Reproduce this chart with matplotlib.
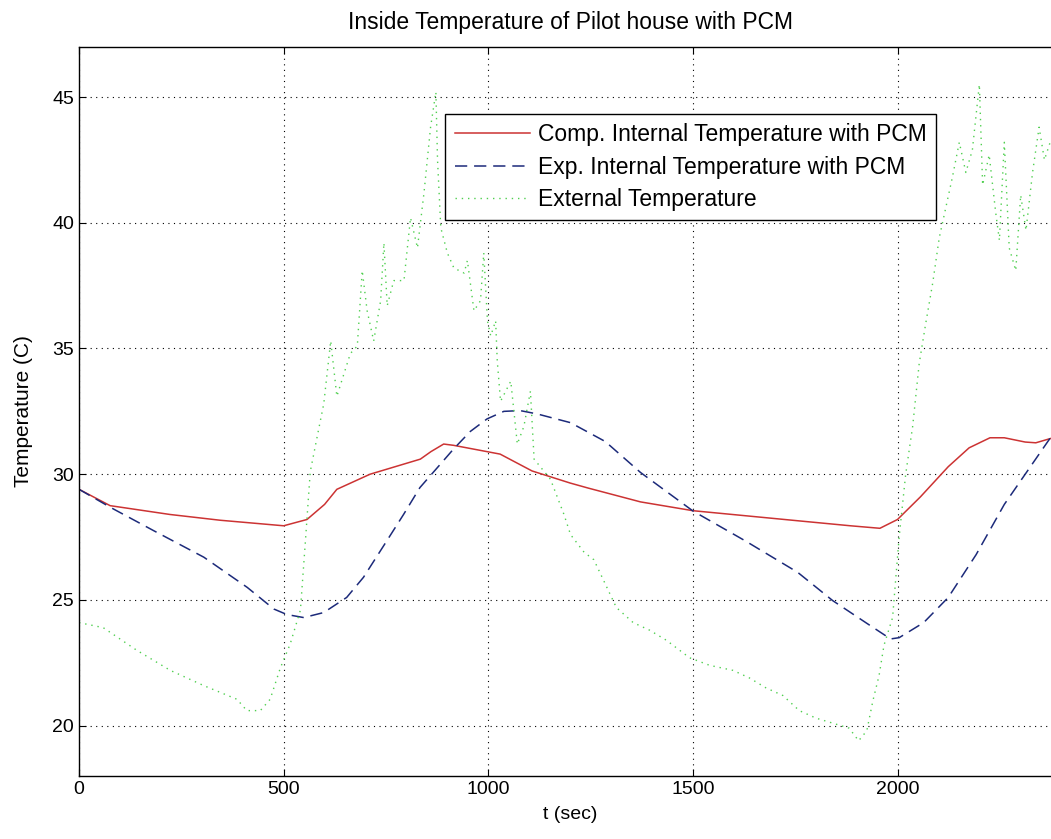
import matplotlib
matplotlib.use("Agg")
import matplotlib.pyplot as plt

plt.rcParams['font.family'] = ['Liberation Sans', 'DejaVu Sans']

# Computed internal temperature with PCM
t_comp = [0, 76, 222, 345, 500, 557, 600, 630, 711, 834, 860, 891, 915, 1029,
          1107, 1200, 1244, 1372, 1500, 1628, 1756, 1885, 1957, 2000, 2056,
          2124, 2175, 2226, 2261, 2312, 2338, 2380]
comp = [29.4, 28.75, 28.4, 28.17, 27.95, 28.2, 28.8, 29.4, 30.0, 30.6, 30.9,
        31.2, 31.15, 30.8, 30.13, 29.65, 29.45, 28.9, 28.55, 28.35, 28.15,
        27.95, 27.85, 28.2, 29.1, 30.3, 31.05, 31.45, 31.45, 31.28, 31.25, 31.45]

# Experimental internal temperature with PCM
t_exp = [0, 77, 183, 305, 411, 476, 508, 549, 598, 654, 695, 752, 793, 833,
         883, 915, 956, 997, 1038, 1078, 1119, 1201, 1286, 1372, 1500, 1628,
         1756, 1842, 1927, 1983, 2004, 2064, 2124, 2192, 2261, 2312, 2380]
exp = [29.4, 28.68, 27.75, 26.7, 25.5, 24.64, 24.42, 24.3, 24.5, 25.1, 25.9,
       27.35, 28.4, 29.47, 30.4, 31.0, 31.7, 32.2, 32.5, 32.53, 32.4, 32.05,
       31.3, 30.07, 28.54, 27.35, 26.1, 24.97, 24.05, 23.45, 23.5, 24.1, 25.1,
       26.8, 28.8, 30.0, 31.6]

# External (ambient) temperature
t_ext = [0, 59, 141, 223, 304, 386, 410, 443, 467, 492, 516, 541, 553, 565,
         582, 598, 615, 630, 663, 680, 692, 704, 720, 737, 745, 753, 769, 794,
         810, 827, 843, 859, 872, 876, 884, 900, 916, 941, 949, 965, 981, 989,
         998, 1006, 1018, 1022, 1030, 1055, 1071, 1087, 1103, 1112, 1152, 1185,
         1201, 1234, 1258, 1313, 1354, 1394, 1435, 1492, 1541, 1598, 1638,
         1679, 1720, 1760, 1801, 1842, 1882, 1905, 1925, 1940, 1955, 1967,
         1988, 2004, 2020, 2037, 2053, 2069, 2086, 2102, 2118, 2134, 2151,
         2167, 2183, 2200, 2208, 2224, 2240, 2249, 2261, 2273, 2289, 2301,
         2314, 2330, 2346, 2359, 2373]
ext = [24.1, 23.9, 23.0, 22.2, 21.6, 21.05, 20.6, 20.6, 21.05, 22.3, 23.25,
       24.6, 27.3, 30.1, 31.5, 32.8, 35.3, 33.1, 34.8, 35.1, 38.1, 36.5, 35.3,
       36.9, 39.2, 36.7, 37.7, 37.7, 40.2, 39.0, 41.2, 43.8, 45.2, 42.5, 39.8,
       38.8, 38.2, 38.0, 38.5, 36.5, 36.9, 38.8, 36.1, 35.5, 36.1, 34.5, 32.9,
       33.7, 31.2, 31.9, 33.3, 30.6, 29.8, 28.4, 27.6, 26.9, 26.6, 24.7, 24.1,
       23.8, 23.4, 22.7, 22.4, 22.2, 21.9, 21.5, 21.2, 20.6, 20.3, 20.1, 19.9,
       19.4, 19.8, 21.0, 22.0, 23.2, 24.3, 27.5, 30.0, 31.9, 34.4, 36.0, 37.6,
       39.4, 40.6, 41.8, 43.2, 42.0, 42.9, 45.5, 41.5, 42.7, 40.4, 39.3, 43.2,
       39.0, 38.1, 41.1, 39.7, 42.0, 43.8, 42.5, 43.2]

x_ticks = [0, 500, 1000, 1500, 2000]
y_ticks = [20, 25, 30, 35, 40, 45]

fig = plt.figure(figsize=(10.51, 8.39), dpi=100)
fig.patch.set_facecolor('white')
# the axes run a little past the right edge of the canvas
ax = fig.add_axes([0.0752, 0.0751, 0.9345, 0.8692])

ax.plot(t_comp, comp, color='#cc3333', lw=1.1, ls='-',
        label='Comp. Internal Temperature with PCM')
ax.plot(t_exp, exp, color='#1c2a7a', lw=1.1, ls=(0, (8, 4.5)),
        label='Exp. Internal Temperature with PCM')
ax.plot(t_ext, ext, color='#4fcf4f', lw=1.0, ls=(0, (1, 3.5)),
        label='External Temperature')

ax.set_xlim(0, 2400)
ax.set_ylim(18, 47)
ax.set_xticks(x_ticks)
ax.set_yticks(y_ticks)
ax.tick_params(direction='in', length=5, width=0.8, labelsize=14,
               top=True, right=True)
ax.grid(True, color='black', ls=(0, (1, 4)), lw=0.8)
for s in ax.spines.values():
    s.set_linewidth(1.0)
    s.set_color('black')

ax.set_title('Inside Temperature of Pilot house with PCM', fontsize=16.5, pad=13)
ax.set_xlabel('t (sec)', fontsize=14, labelpad=6)
ax.set_ylabel('Temperature (C)', fontsize=15, labelpad=14)

leg = ax.legend(loc='upper left', bbox_to_anchor=(0.373, 0.908), fontsize=16.5,
                frameon=True, fancybox=False, edgecolor='black', framealpha=1,
                handlelength=3.3, handletextpad=0.35, borderpad=0.4,
                labelspacing=0.42, borderaxespad=0)
leg.get_frame().set_linewidth(1.0)

fig.savefig('out.png', dpi=100, facecolor='white')
